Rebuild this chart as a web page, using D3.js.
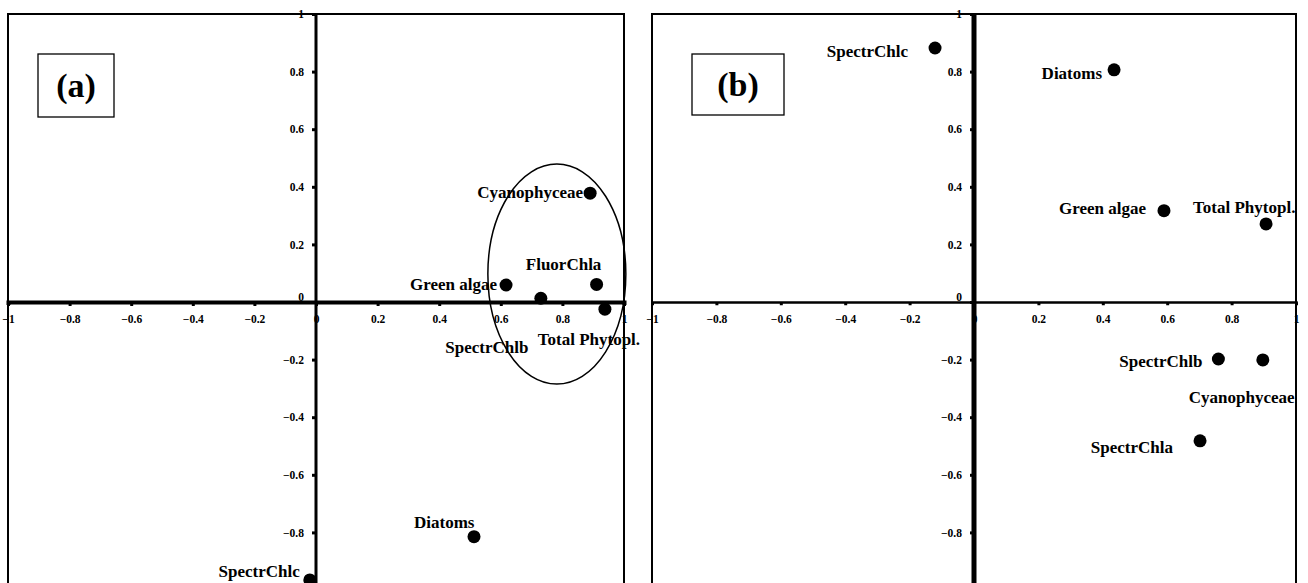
<!DOCTYPE html>
<html>
<head>
<meta charset="utf-8">
<script src="https://cdn.jsdelivr.net/npm/d3@7"></script>
<style>
  html, body { margin: 0; padding: 0; background: #fff; }
  svg { display: block; }
  text { font-family: "Liberation Serif", "Times New Roman", serif; font-weight: bold; }
</style>
</head>
<body>
<div id="chart"></div>
<script>
// panel (a) loadings
const namesA = ['Cyanophyceae', 'FluorChla', 'Green algae', 'SpectrChlb', 'Total Phytopl.', 'Diatoms', 'SpectrChlc'];
const xA = [0.89, 0.911, 0.617, 0.730, 0.938, 0.513, -0.02];
const yA = [0.378, 0.061, 0.059, 0.013, -0.025, -0.815, -0.965];
// label offsets (px) relative to the dot, and anchor
const labDxA = [-7, -33, -9, -54, -16, -60, -10];
const labDyA = [5, -14, 5, 55, 36, -9, -3];
const anchorA = ['end', 'middle', 'end', 'middle', 'middle', 'start', 'end'];

// panel (b) loadings
const namesB = ['SpectrChlc', 'Diatoms', 'Green algae', 'Total Phytopl.', 'SpectrChlb', 'Cyanophyceae', 'SpectrChla'];
const xB = [-0.121, 0.435, 0.590, 0.907, 0.759, 0.897, 0.702];
const yB = [0.882, 0.806, 0.317, 0.271, -0.198, -0.201, -0.482];
const labDxB = [-27, -12, -18, -73, -16, -74, -27];
const labDyB = [9, 9, 3, -11, 8, 43, 12];
const anchorB = ['end', 'end', 'end', 'start', 'end', 'start', 'end'];

const xTicks = [-1, -0.8, -0.6, -0.4, -0.2, 0, 0.2, 0.4, 0.6, 0.8, 1];
const yTicks = [-0.8, -0.6, -0.4, -0.2, 0, 0.2, 0.4, 0.6, 0.8, 1];

// ellipse around the cluster in (a): centre and radii in data units
const ellipseA = { cx: 0.782, cy: 0.097, rx: 0.224, ry: 0.382 };

const W = 1308, H = 583;
const svg = d3.select('#chart').append('svg').attr('width', W).attr('height', H);

function panel(cfg) {
  const x = d3.scaleLinear().domain([-1, 1]).range([cfg.left, cfg.right]);
  const y = d3.scaleLinear().domain([-1, 1]).range([cfg.top + 2 * cfg.unitY, cfg.top]);
  const g = svg.append('g');

  // frame
  g.append('rect')
    .attr('x', cfg.left).attr('y', cfg.top)
    .attr('width', cfg.right - cfg.left).attr('height', y(-1) - cfg.top + 10)
    .attr('fill', 'none').attr('stroke', '#000').attr('stroke-width', 2);

  // panel tag
  g.append('rect')
    .attr('x', cfg.tag.x).attr('y', cfg.tag.y).attr('width', cfg.tag.w).attr('height', cfg.tag.h)
    .attr('fill', '#fff').attr('stroke', '#000').attr('stroke-width', 1.3);
  g.append('text')
    .attr('x', cfg.tag.x + cfg.tag.w / 2).attr('y', cfg.tag.y + cfg.tag.h / 2 + 11)
    .attr('text-anchor', 'middle').attr('font-size', '34px')
    .text(cfg.tag.label);

  // x axis
  const xAxis = g.append('g').attr('transform', `translate(0,${y(0)})`)
    .call(d3.axisBottom(x).tickValues(xTicks).tickSize(3).tickPadding(10)
      .tickFormat(d => d3.format('')(d)));
  xAxis.select('.domain').attr('stroke', '#000').attr('stroke-width', cfg.xw);
  xAxis.selectAll('.tick line').attr('stroke', '#000').attr('stroke-width', 3)
    .attr('y1', cfg.xw / 2 - 1).attr('y2', cfg.xw / 2 + 2);
  xAxis.selectAll('.tick text').attr('font-size', '11.5px').attr('fill', '#000')
    .attr('font-family', '"Liberation Serif", serif');

  // y axis
  const yAxis = g.append('g').attr('transform', `translate(${x(0)},0)`)
    .call(d3.axisLeft(y).tickValues(yTicks).tickSize(4).tickPadding(8)
      .tickFormat(d => d3.format('')(d)));
  yAxis.select('.domain').attr('stroke', '#000').attr('stroke-width', cfg.yw)
    .attr('d', `M0,${y(1)}V${H + 20}`);
  yAxis.selectAll('.tick line').attr('stroke', '#000').attr('stroke-width', 3);
  yAxis.selectAll('.tick text').attr('font-size', '11.5px').attr('fill', '#000')
    .attr('font-family', '"Liberation Serif", serif')
    .attr('dy', d => d === 0 ? '-0.1em' : '0.32em');

  // optional ellipse
  if (cfg.ellipse) {
    const e = cfg.ellipse;
    g.append('ellipse')
      .attr('cx', x(e.cx)).attr('cy', y(e.cy))
      .attr('rx', x(e.rx) - x(0)).attr('ry', y(0) - y(e.ry))
      .attr('fill', 'none').attr('stroke', '#000').attr('stroke-width', 1.5);
  }

  // points
  const pts = cfg.names.map((n, i) => ({ name: n, x: cfg.xs[i], y: cfg.ys[i], dx: cfg.dx[i], dy: cfg.dy[i], anchor: cfg.anchor[i] }));
  g.selectAll('.dot').data(pts).join('circle')
    .attr('class', 'dot')
    .attr('cx', d => x(d.x)).attr('cy', d => y(d.y))
    .attr('r', 6.5).attr('fill', '#000');

  g.selectAll('.lab').data(pts).join('text')
    .attr('class', 'lab')
    .attr('x', d => x(d.x) + d.dx).attr('y', d => y(d.y) + d.dy)
    .attr('text-anchor', d => d.anchor)
    .attr('font-size', '17px').attr('fill', '#000')
    .text(d => d.name);
}

panel({
  left: 8, right: 624, top: 14, unitY: 288, xw: 4, yw: 3,
  tag: { x: 38, y: 54, w: 76, h: 63, label: '(a)' },
  names: namesA, xs: xA, ys: yA, dx: labDxA, dy: labDyA, anchor: anchorA,
  ellipse: ellipseA
});

panel({
  left: 652, right: 1296, top: 14, unitY: 288, xw: 2.5, yw: 5,
  tag: { x: 692, y: 54, w: 92, h: 61, label: '(b)' },
  names: namesB, xs: xB, ys: yB, dx: labDxB, dy: labDyB, anchor: anchorB
});
</script>
</body>
</html>
